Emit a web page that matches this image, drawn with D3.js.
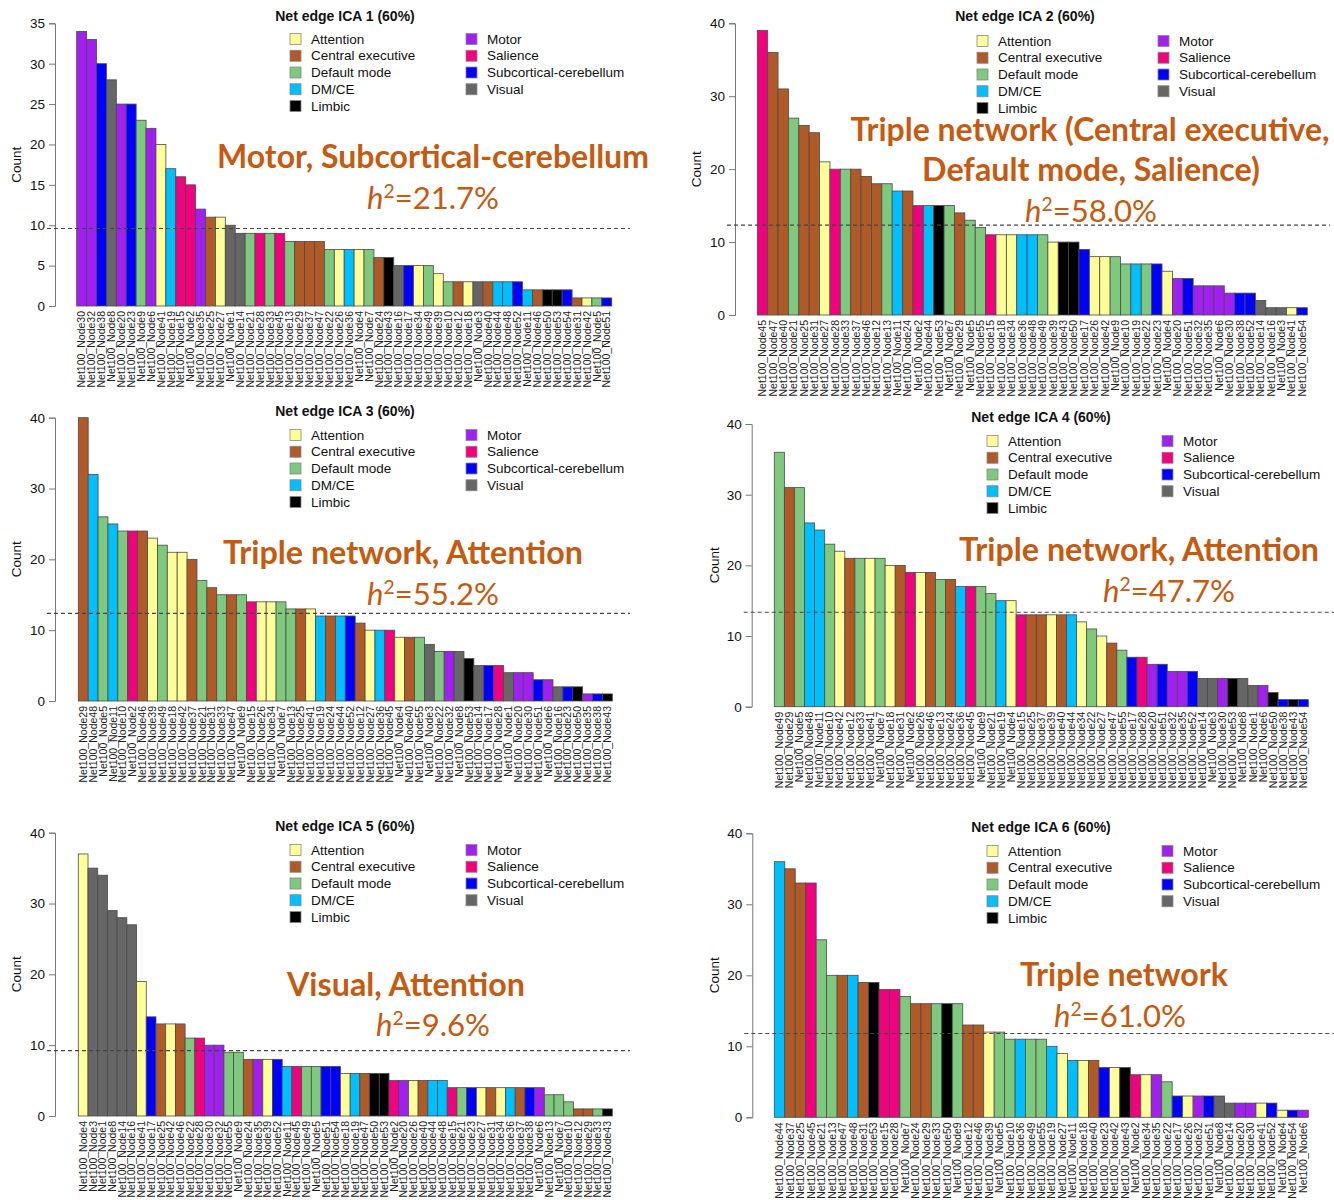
<!DOCTYPE html>
<html>
<head>
<meta charset="utf-8">
<script src="https://cdn.jsdelivr.net/npm/d3@7"></script>
<style>
  body { margin: 0; background: #fff; }
  svg text { font-family: "Liberation Sans", Arial, sans-serif; }
</style>
</head>
<body>
<div id="chart"></div>
<script>
var svgWidth = 1334;
var svgHeight = 1200;

// networks and their colours (legend order)
var networks = ["Attention", "Central executive", "Default mode", "DM/CE", "Limbic",
  "Motor", "Salience", "Subcortical-cerebellum", "Visual"];
var networkColors = ["#FFFF99", "#B05A28", "#7FC97F", "#00BFFF", "#000000",
  "#A020F0", "#F0027F", "#0000FF", "#666666"];

// network of each node, Node1 .. Node55 (index into networks)
var nodeNetwork = [
  8, 6, 8, 0, 2, 5, 2, 8, 2, 2,      // 1-10
  3, 1, 2, 8, 6, 8, 7, 0, 3, 5,      // 11-20
  2, 2, 7, 1, 1, 0, 0, 6, 1, 5,      // 21-30
  1, 5, 2, 0, 5, 3, 1, 7, 0, 1,      // 31-40
  0, 0, 4, 3, 6, 1, 1, 3, 2, 4,      // 41-50
  7, 7, 4, 7, 2                      // 51-55
];

var titles = ["Net edge ICA 1 (60%)", "Net edge ICA 2 (60%)", "Net edge ICA 3 (60%)",
  "Net edge ICA 4 (60%)", "Net edge ICA 5 (60%)", "Net edge ICA 6 (60%)"];

var ica1Nodes = [30,32,38,8,20,23,9,6,41,19,15,2,35,25,27,1,14,21,28,33,45,13,29,37,47,22,26,36,4,7,24,43,16,17,34,49,39,10,12,18,3,40,44,48,52,11,46,50,53,54,31,42,5,51];
var ica1Counts = [34,33,30,28,25,25,23,22,20,17,16,15,12,11,11,10,9,9,9,9,9,8,8,8,8,7,7,7,7,7,6,6,5,5,5,5,4,3,3,3,3,3,3,3,3,2,2,2,2,2,1,1,1,1];

var ica2Nodes = [45,47,40,21,25,31,27,28,33,37,46,12,13,11,24,2,44,53,7,29,5,55,15,18,34,36,48,49,39,43,50,17,26,42,9,10,19,22,23,4,20,51,32,35,6,30,38,52,14,16,3,41,54];
var ica2Counts = [39,36,31,27,26,25,21,20,20,20,19,18,18,17,17,15,15,15,15,14,13,12,11,11,11,11,11,11,10,10,10,9,8,8,8,7,7,7,7,6,5,5,4,4,4,3,3,3,2,1,1,1,1];

var ica3Nodes = [29,48,5,11,10,2,46,39,49,18,42,37,21,31,33,47,9,15,26,34,7,13,25,41,19,24,44,52,12,27,36,45,4,40,55,3,22,32,8,53,14,17,28,1,20,30,51,6,16,23,50,35,38,43];
var ica3Counts = [40,32,26,25,24,24,24,23,22,21,21,20,17,16,15,15,15,14,14,14,14,13,13,13,12,12,12,12,11,10,10,10,9,9,9,8,7,7,7,6,5,5,5,4,4,4,3,3,2,2,2,1,1,1];

var ica4Nodes = [49,29,5,48,11,10,42,12,33,41,7,18,31,2,26,46,13,24,36,45,9,21,19,4,15,25,37,39,40,44,34,22,27,47,55,17,28,20,51,32,35,52,14,3,30,53,8,1,6,50,38,43,54];
var ica4Counts = [36,31,31,26,25,23,22,21,21,21,21,20,20,19,19,19,18,18,17,17,17,16,15,15,13,13,13,13,13,13,12,11,10,9,8,7,7,6,6,5,5,5,4,4,4,4,4,3,3,2,1,1,1];

var ica5Nodes = [4,3,1,8,14,16,41,17,25,42,46,22,28,30,32,55,9,24,35,39,52,11,45,49,5,51,54,18,19,47,50,53,2,20,26,40,44,48,15,21,23,27,31,34,36,37,38,6,13,7,10,12,29,33,43];
var ica5Counts = [37,35,34,29,28,27,19,14,13,13,13,11,11,10,10,9,9,8,8,8,8,7,7,7,7,7,7,6,6,6,6,6,5,5,5,5,5,5,4,4,4,4,4,4,4,4,4,4,3,3,2,1,1,1,1];

var ica6Nodes = [44,37,25,45,21,13,47,48,31,53,15,28,7,24,29,33,50,9,12,46,39,5,10,36,49,55,19,27,11,18,40,23,42,43,2,34,35,22,17,26,32,51,8,14,20,30,41,52,4,54,6];
var ica6Counts = [36,35,33,33,25,20,20,20,19,19,18,18,17,16,16,16,16,16,13,13,12,12,11,11,11,11,10,9,8,8,8,7,7,7,6,6,6,5,3,3,3,3,3,2,2,2,2,2,1,1,1];

var annotations = [
  ["Motor, Subcortical-cerebellum"],
  ["Triple network (Central executive,", "Default mode, Salience)"],
  ["Triple network, Attention"],
  ["Triple network, Attention"],
  ["Visual, Attention"],
  ["Triple network"]
];
var heritability = ["21.7%", "58.0%", "55.2%", "47.7%", "9.6%", "61.0%"];

var panelNodes = [ica1Nodes, ica2Nodes, ica3Nodes, ica4Nodes, ica5Nodes, ica6Nodes];
var panelCounts = [ica1Counts, ica2Counts, ica3Counts, ica4Counts, ica5Counts, ica6Counts];
var panelMax = [35, 40, 40, 40, 40, 40];
var panelStep = [5, 10, 10, 10, 10, 10];

// pixel layout of each panel
var layout = [
  {x0: 76.7, x1: 611.7, y0: 306, yTop: 23.3, axisX: 55, lineX1: 630, countX: 16,
   titleX: 345, titleY: 21, legX: 290, legX2: 466, legY: 39,
   ann: [{x: 433, y: 168, w: 432}], h: {x: 433, y: 209, w: 132}},
  {x0: 757.3, x1: 1307.3, y0: 315, yTop: 23.3, axisX: 735, lineX1: 1330, countX: 696,
   titleX: 1025, titleY: 21, legX: 977, legX2: 1158, legY: 41,
   ann: [{x: 1090, y: 141, w: 479}, {x: 1091, y: 181, w: 338}], h: {x: 1091, y: 222, w: 132}},
  {x0: 78.3, x1: 612.3, y0: 701, yTop: 417.7, axisX: 55, lineX1: 630, countX: 16,
   titleX: 345, titleY: 416, legX: 290, legX2: 466, legY: 435,
   ann: [{x: 403, y: 564, w: 360}], h: {x: 433, y: 605, w: 132}},
  {x0: 774.3, x1: 1308.3, y0: 706.7, yTop: 424, axisX: 751.7, lineX1: 1334, countX: 714,
   titleX: 1041, titleY: 422, legX: 987, legX2: 1162, legY: 441,
   ann: [{x: 1139, y: 561, w: 360}], h: {x: 1169, y: 602, w: 132}},
  {x0: 78.3, x1: 612.3, y0: 1116, yTop: 832.7, axisX: 55, lineX1: 630, countX: 16,
   titleX: 345, titleY: 831, legX: 290, legX2: 466, legY: 850,
   ann: [{x: 406, y: 996, w: 238}], h: {x: 433, y: 1036, w: 114}},
  {x0: 774.3, x1: 1308.3, y0: 1117.3, yTop: 833.3, axisX: 752.3, lineX1: 1334, countX: 714,
   titleX: 1041, titleY: 832, legX: 987, legX2: 1162, legY: 851,
   ann: [{x: 1124, y: 986, w: 208}], h: {x: 1120, y: 1027, w: 132}}
];

var orange = "#C55A11";

var svg = d3.select("#chart")
  .append("svg")
  .attr("width", svgWidth)
  .attr("height", svgHeight);

// scale a text's font size so that it spans the target width
function fitWidth(textSel, target, baseSize) {
  var w = textSel.node().getComputedTextLength();
  textSel.attr("font-size", (baseSize * target / w).toFixed(2) + "px");
}

layout.forEach(function(L, p) {
  var nodes = panelNodes[p];
  var counts = panelCounts[p];
  var data = nodes.map(function(n, i) {
    return { label: "Net100_Node" + n, count: counts[i], net: nodeNetwork[n - 1] };
  });

  var g = svg.append("g");

  var xScale = d3.scaleBand()
    .domain(data.map(d => d.label))
    .range([L.x0, L.x1])
    .padding(0);

  var yScale = d3.scaleLinear()
    .domain([0, panelMax[p]])
    .range([L.y0, L.yTop]);

  // bars
  g.selectAll("rect.bar")
    .data(data)
    .enter()
    .append("rect")
    .attr("class", "bar")
    .attr("x", d => xScale(d.label))
    .attr("y", d => yScale(d.count))
    .attr("width", xScale.bandwidth())
    .attr("height", d => yScale(0) - yScale(d.count))
    .attr("fill", d => networkColors[d.net])
    .attr("stroke", "#4a4a4a")
    .attr("stroke-width", 0.8);

  // y axis
  var leftAxis = d3.axisLeft(yScale)
    .tickValues(d3.range(0, panelMax[p] + 1, panelStep[p]))
    .tickSizeOuter(0)
    .tickSize(6)
    .tickPadding(4);

  var yAxis = g.append("g")
    .attr("transform", `translate(${L.axisX}, 0)`)
    .call(leftAxis);
  yAxis.selectAll("path, line").attr("stroke", "#777");
  yAxis.selectAll("text")
    .attr("font-size", "13.5px")
    .attr("fill", "#111")
    .style("font-family", "'Liberation Sans', Arial, sans-serif");

  // x axis labels
  var bottomAxis = d3.axisBottom(xScale).tickSize(0);
  var xAxis = g.append("g")
    .attr("transform", `translate(0, ${L.y0})`)
    .call(bottomAxis);
  xAxis.select(".domain").remove();
  xAxis.selectAll("text")
    .attr("transform", "rotate(-90)")
    .attr("x", -5)
    .attr("y", 0)
    .attr("dy", "0.35em")
    .attr("text-anchor", "end")
    .attr("font-size", "10.5px")
    .attr("fill", "#222")
    .style("font-family", "'Liberation Sans', Arial, sans-serif");

  // mean line
  var mean = d3.mean(counts);
  g.append("line")
    .attr("x1", L.axisX - 8)
    .attr("x2", L.lineX1)
    .attr("y1", yScale(mean))
    .attr("y2", yScale(mean))
    .attr("stroke", "#444")
    .attr("stroke-width", 1.1)
    .attr("stroke-dasharray", "4,3");

  // y label
  g.append("text")
    .attr("transform", `translate(${L.countX}, ${(L.y0 + L.yTop) / 2}) rotate(-90)`)
    .attr("text-anchor", "middle")
    .attr("dy", "0.35em")
    .attr("font-size", "13.5px")
    .attr("fill", "#111")
    .text("Count");

  // title
  g.append("text")
    .attr("x", L.titleX)
    .attr("y", L.titleY)
    .attr("text-anchor", "middle")
    .attr("font-size", "14px")
    .attr("font-weight", "bold")
    .attr("fill", "#111")
    .text(titles[p]);

  // legend
  var legend = g.append("g");
  networks.forEach(function(name, i) {
    var col = i < 5 ? 0 : 1;
    var row = i < 5 ? i : i - 5;
    var lx = col === 0 ? L.legX : L.legX2;
    var ly = L.legY + row * 16.75;
    legend.append("rect")
      .attr("x", lx)
      .attr("y", ly - 5.5)
      .attr("width", 11)
      .attr("height", 11)
      .attr("fill", networkColors[i])
      .attr("stroke", "#888")
      .attr("stroke-width", 0.8);
    legend.append("text")
      .attr("x", lx + 21)
      .attr("y", ly)
      .attr("dy", "0.35em")
      .attr("font-size", "13.5px")
      .attr("fill", "#111")
      .text(name);
  });

  // annotation
  annotations[p].forEach(function(line, i) {
    var a = L.ann[i];
    var t = g.append("text")
      .attr("x", a.x)
      .attr("y", a.y)
      .attr("text-anchor", "middle")
      .attr("font-size", "30px")
      .attr("font-weight", "bold")
      .attr("fill", orange)
      .style("font-family", "Lato, 'Open Sans', sans-serif")
      .text(line);
    fitWidth(t, a.w, 30);
  });

  var ht = g.append("text")
    .attr("x", L.h.x)
    .attr("y", L.h.y)
    .attr("text-anchor", "middle")
    .attr("font-size", "30px")
    .attr("fill", orange)
    .style("font-family", "Lato, 'Open Sans', sans-serif");
  ht.append("tspan").attr("font-style", "italic").text("h");
  ht.append("tspan").attr("font-size", "0.62em").attr("dy", "-0.55em").text("2");
  ht.append("tspan").attr("dy", "0.34em").text("=" + heritability[p]);
  fitWidth(ht, L.h.w, 30);
});
</script>
</body>
</html>
